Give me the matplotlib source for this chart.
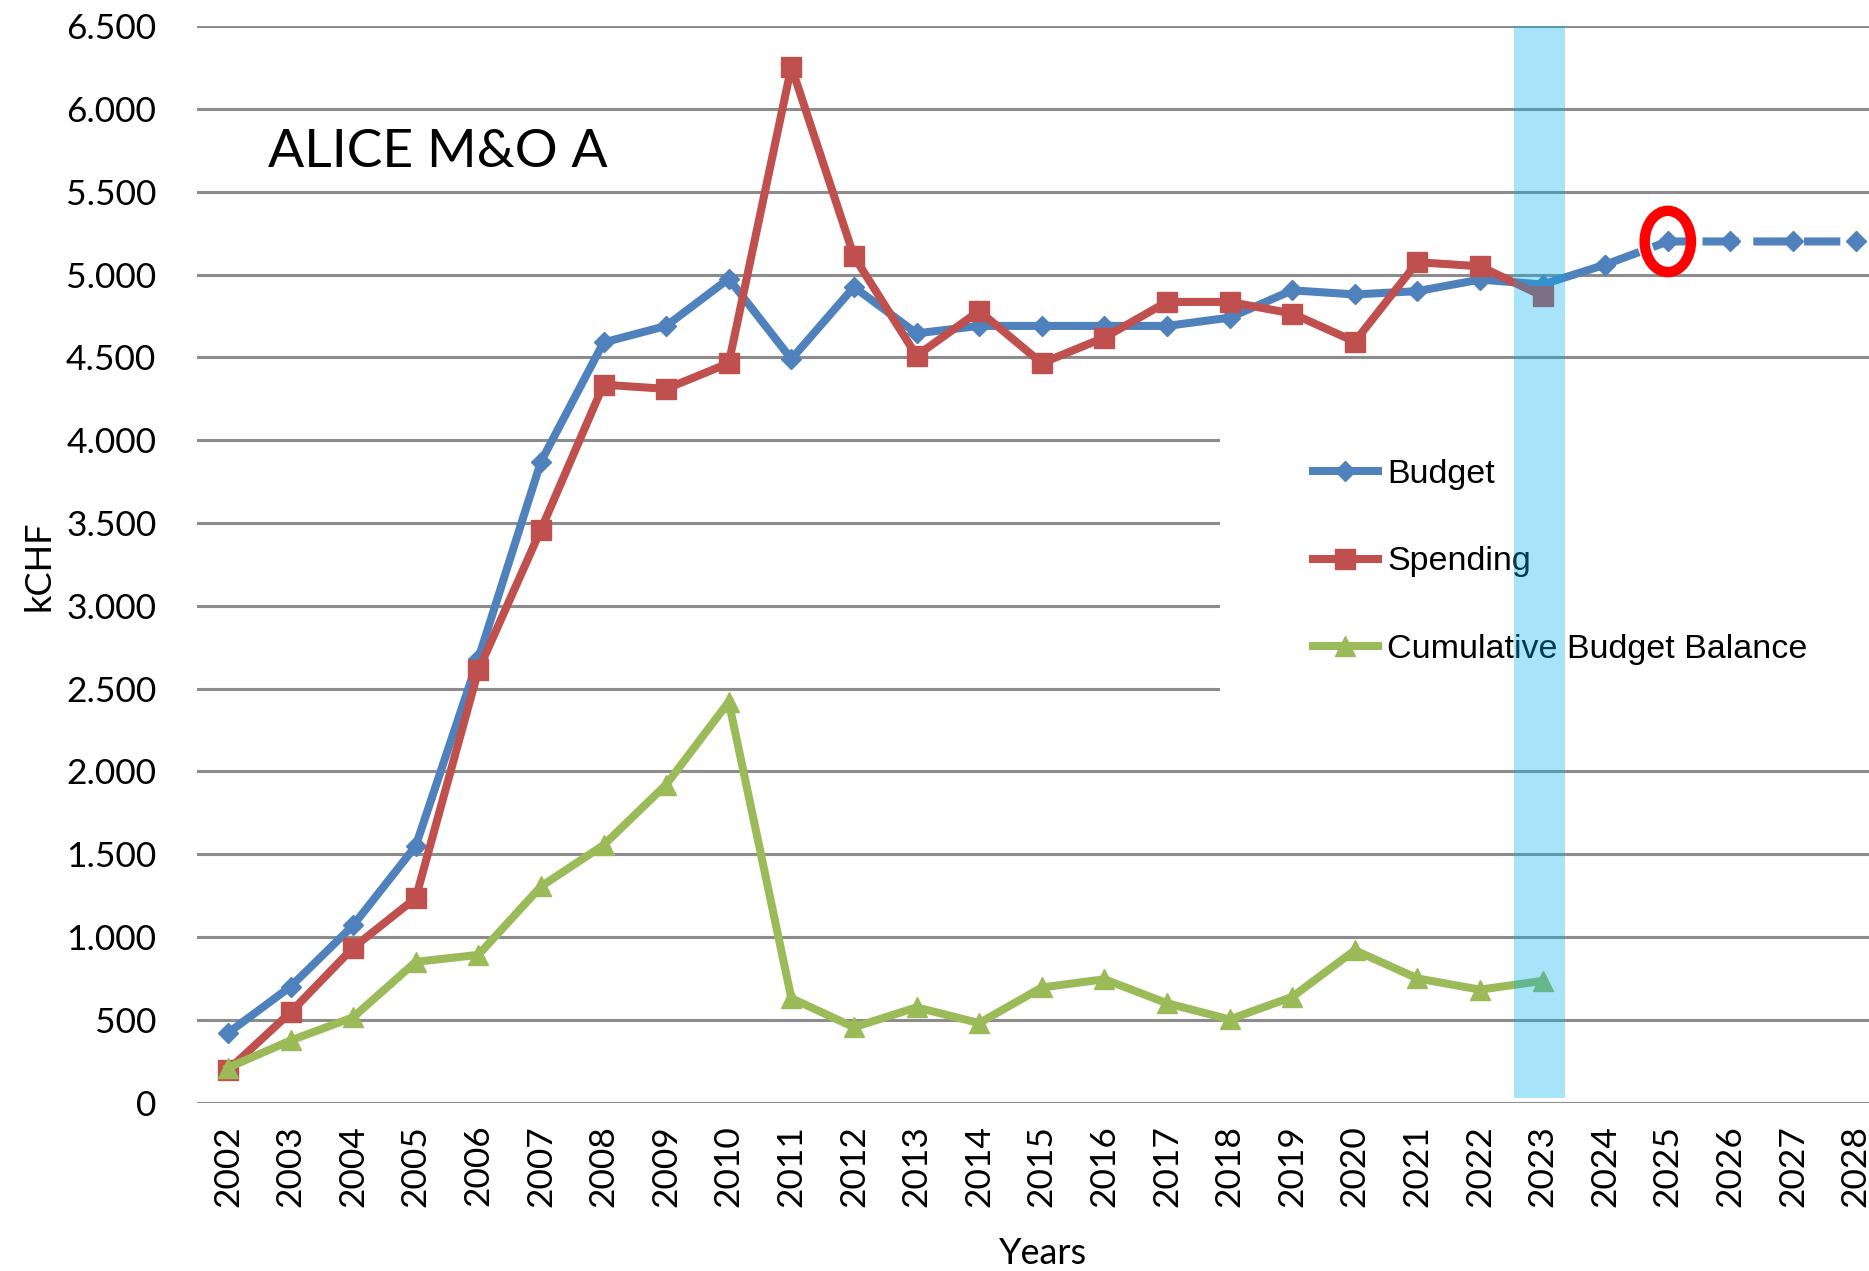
"""
ALICE M&O A budget / spending chart.
"""

import matplotlib
matplotlib.use("Agg")
import matplotlib.pyplot as plt
from matplotlib.patches import Ellipse, Rectangle
from matplotlib.ticker import FuncFormatter

#######################################################
# DATA

years = list(range(2002, 2029))

budget = [
    420, 700, 1070, 1550, 2680, 3870, 4590, 4690, 4975, 4490,
    4925, 4645, 4690, 4690, 4690, 4690, 4740, 4905, 4880, 4900,
    4970, 4940, 5060, 5200, 5200, 5200, 5200
]

spending = [
    195, 545, 935, 1235, 2610, 3460, 4335, 4310, 4465, 6255,
    5110, 4510, 4780, 4465, 4620, 4835, 4835, 4765, 4595, 5075,
    5050, 4870
]

balance = [
    210, 375, 515, 850, 892, 1305, 1555, 1920, 2420, 630,
    455, 575, 480, 695, 745, 600, 502, 638, 920, 750,
    682, 735
]

y_ticks = list(range(0, 7000, 500))

BLUE = "#4F81BD"
RED = "#C0504D"
GREEN = "#9BBB59"

plt.rcParams["font.family"] = ["Lato", "DejaVu Sans"]

#######################################################
# FIGURE

fig = plt.figure(figsize=(18.69, 12.71), dpi=100)

ax = fig.add_axes([0.1052, 0.1325, 0.9044, 0.8469])

ax.set_xlim(2001.5, 2028.5)
ax.set_ylim(0, 6500)

# grid
ax.set_yticks(y_ticks)
ax.yaxis.grid(True, color="#8C8C8C", linewidth=2.2)
ax.set_axisbelow(True)

for s in ax.spines.values():
    s.set_visible(False)

ax.yaxis.set_major_formatter(
    FuncFormatter(lambda v, p: f"{int(v):,}".replace(",", "."))
)

ax.set_xticks(years)
ax.set_xticklabels([str(y) for y in years], rotation=90)

ax.tick_params(axis="y", length=0, pad=29, labelsize=25.5)
ax.tick_params(axis="x", length=0, pad=16, labelsize=25.5)

# white box behind the legend (hides gridlines)
ax.add_patch(
    Rectangle(
        (2017.84, 2180), 12, 2080,
        facecolor="white", edgecolor="none", zorder=1
    )
)

# lines
n_solid = years.index(2024) + 1

ax.plot(
    years[:n_solid], budget[:n_solid],
    color=BLUE, lw=5.8, marker="D", ms=10.5, zorder=3,
    label="Budget"
)
ax.plot(
    years[n_solid - 1:], budget[n_solid - 1:],
    color=BLUE, lw=5.8, marker="D", ms=10.5, zorder=3,
    dashes=(4.5, 1.8)
)
ax.plot(
    years[:len(spending)], spending,
    color=RED, lw=5.8, marker="s", ms=15, zorder=4,
    label="Spending"
)
ax.plot(
    years[:len(balance)], balance,
    color=GREEN, lw=5.8, marker="^", ms=15, zorder=4,
    label="Cumulative Budget Balance"
)

# highlighted year
ax.add_patch(
    Rectangle(
        (2022.54, 25), 0.82, 6475,
        facecolor="#00B0F0", edgecolor="none", alpha=0.34, zorder=10
    )
)

# red circle around 2025
ax.add_patch(
    Ellipse(
        (2025, 5200), 0.74, 370,
        facecolor="none", edgecolor="#FF0000", lw=7.5, zorder=11
    )
)

leg = ax.legend(
    loc="upper left",
    bbox_to_anchor=(1313 / 1869, 1 - 459 / 1271),
    bbox_transform=fig.transFigure,
    frameon=False,
    prop={"family": "Liberation Sans", "size": 24.5},
    handlelength=1.9,
    handletextpad=0.28,
    labelspacing=1.66,
    borderpad=0,
    borderaxespad=0,
    numpoints=1,
)
leg.set_zorder(5)

# texts
fig.text(
    268 / 1869, 1 - 167 / 1271, "ALICE M&O A",
    fontsize=38.5, va="baseline", ha="left"
)

fig.text(
    1043 / 1869, 1 - 1254 / 1271, "Years",
    fontsize=26, va="center", ha="center"
)

fig.text(
    39 / 1869, 1 - 566 / 1271, "kCHF",
    fontsize=26, va="center", ha="center", rotation=90
)

plt.savefig("out.png", dpi=100)
plt.close()
